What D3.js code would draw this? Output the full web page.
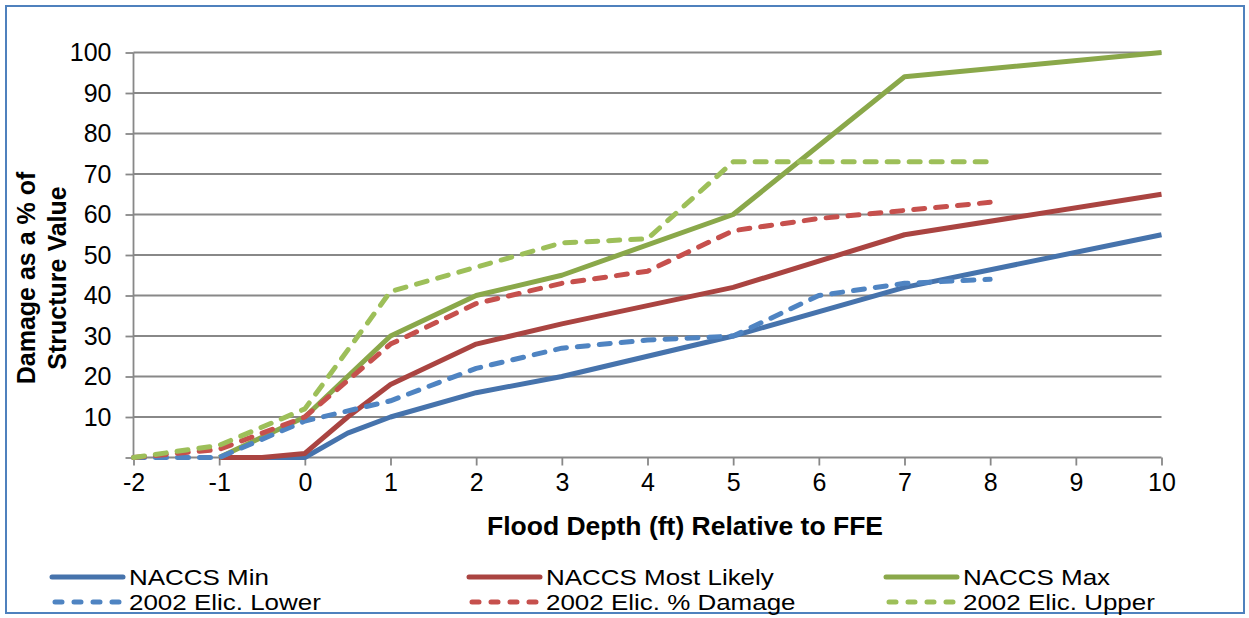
<!DOCTYPE html>
<html>
<head>
<meta charset="utf-8">
<script src="https://d3js.org/d3.v7.min.js"></script>
<style>
  body { margin: 0; background: #fff; }
  text { font-family: "Liberation Sans", Arial, sans-serif; fill: #000; }
  .tick text { font-size: 25px; }
  .title { font-size: 25px; font-weight: bold; }
  .legend text { font-size: 22px; }
</style>
</head>
<body>
<div id="chart"></div>
<script>
  // tick labels
  var xTicks = [-2, -1, 0, 1, 2, 3, 4, 5, 6, 7, 8, 9, 10];
  var yTicks = [0, 10, 20, 30, 40, 50, 60, 70, 80, 90, 100];

  // series
  var minX    = [-1, -0.5, 0, 0.5, 1, 2, 3, 4, 5, 7, 10];
  var minY    = [0, 0, 0, 6, 10, 16, 20, 25, 30, 42, 55];
  var likelyX = [-1, -0.5, 0, 0.5, 1, 2, 3, 5, 7, 10];
  var likelyY = [0, 0, 1, 10, 18, 28, 33, 42, 55, 65];
  var maxX    = [-1, 0, 0.5, 1, 2, 3, 5, 7, 10];
  var maxY    = [0, 10, 20, 30, 40, 45, 60, 94, 100];
  var elicX   = [-2, -1, 0, 1, 2, 3, 4, 5, 6, 7, 8];
  var lowerY  = [0, 0, 9, 14, 22, 27, 29, 30, 40, 43, 44];
  var dmgY    = [0, 2, 10, 28, 38, 43, 46, 56, 59, 61, 63];
  var upperY  = [0, 3, 12, 41, 47, 53, 54, 73, 73, 73, 73];

  var seriesNames = ['NACCS Min', 'NACCS Most Likely', 'NACCS Max',
                     '2002 Elic. Lower', '2002 Elic. % Damage', '2002 Elic. Upper'];

  function zip(xs, ys) {
    return xs.map(function (x, i) { return {x: x, y: ys[i]}; });
  }

  var series = [
    {name: seriesNames[0], pts: zip(minX, minY),       color: '#4673AC', dash: null},
    {name: seriesNames[1], pts: zip(likelyX, likelyY), color: '#AA4441', dash: null},
    {name: seriesNames[2], pts: zip(maxX, maxY),       color: '#8AA84A', dash: null},
    {name: seriesNames[3], pts: zip(elicX, lowerY),    color: '#4F84C2', dash: '11,11'},
    {name: seriesNames[4], pts: zip(elicX, dmgY),      color: '#C6504D', dash: '11,11'},
    {name: seriesNames[5], pts: zip(elicX, upperY),    color: '#9DBF59', dash: '11,11'}
  ];

  var w = 1249, h = 618;
  var svg = d3.select('#chart').append('svg')
    .attr('width', w)
    .attr('height', h);

  // outer frame
  svg.append('rect')
    .attr('x', 6).attr('y', 6)
    .attr('width', 1238).attr('height', 607)
    .attr('fill', 'none')
    .attr('stroke', '#4F81BD')
    .attr('stroke-width', 2);

  var x = d3.scaleLinear().domain([-2, 10]).range([133.5, 1161.5]);
  var y = d3.scaleLinear().domain([0, 100]).range([457.5, 52.5]);

  // gridlines
  svg.append('g').selectAll('line')
    .data(yTicks.filter(function (d) { return d > 0; }))
    .enter().append('line')
    .attr('x1', x(-2)).attr('x2', x(10))
    .attr('y1', function (d) { return y(d); })
    .attr('y2', function (d) { return y(d); })
    .attr('stroke', '#888')
    .attr('stroke-width', 1.8);

  // axes
  var yAxis = svg.append('g')
    .attr('transform', 'translate(' + x(-2) + ',0)')
    .call(d3.axisLeft(y).tickValues(yTicks).tickSize(8).tickPadding(14)
      .tickFormat(function (d) { return d === 0 ? '' : String(d); }));

  var xAxis = svg.append('g')
    .attr('transform', 'translate(0,' + y(0) + ')')
    .call(d3.axisBottom(x).tickValues(xTicks).tickSize(8).tickPadding(6)
      .tickFormat(function (d) { return String(d); }));

  [xAxis, yAxis].forEach(function (a) {
    a.select('.domain').attr('stroke', '#888').attr('stroke-width', 1.8);
    a.selectAll('.tick line').attr('stroke', '#888').attr('stroke-width', 1.8);
    a.selectAll('.tick text').attr('font-size', null).attr('font-family', null);
  });
  xAxis.select('.domain').attr('d', 'M' + x(-2) + ',0H' + x(10));
  yAxis.select('.domain').attr('d', 'M0,' + y(0) + 'V' + y(100));
  xAxis.selectAll('.tick text').attr('dy', '0.78em');

  // lines
  var line = d3.line()
    .x(function (d) { return x(d.x); })
    .y(function (d) { return y(d.y); });

  svg.append('g').selectAll('path')
    .data(series)
    .enter().append('path')
    .attr('d', function (d) { return line(d.pts); })
    .attr('fill', 'none')
    .attr('stroke', function (d) { return d.color; })
    .attr('stroke-width', 5)
    .attr('stroke-linejoin', 'round')
    .attr('stroke-linecap', function (d) { return d.dash ? 'round' : 'butt'; })
    .attr('stroke-dasharray', function (d) { return d.dash; });

  // axis titles
  svg.append('text')
    .attr('class', 'title')
    .attr('x', 685).attr('y', 535)
    .attr('text-anchor', 'middle')
    .style('font-size', '26.5px')
    .text('Flood Depth (ft) Relative to FFE');

  var yt = svg.append('text')
    .attr('class', 'title')
    .attr('transform', 'translate(35,278) rotate(-90)')
    .attr('text-anchor', 'middle');
  yt.append('tspan').attr('x', 0).attr('y', 0).text('Damage as a % of');
  yt.append('tspan').attr('x', 0).attr('y', 31).text('Structure Value');

  // legend
  var legX = [52, 469, 886];
  var legY = [577, 602];
  var leg = svg.append('g').attr('class', 'legend')
    .selectAll('g')
    .data(series)
    .enter().append('g')
    .attr('transform', function (d, i) {
      return 'translate(' + legX[i % 3] + ',' + legY[Math.floor(i / 3)] + ')';
    });
  leg.append('line')
    .attr('x1', function (d) { return d.dash ? 3 : 0; })
    .attr('x2', function (d) { return d.dash ? 70 : 71; })
    .attr('stroke', function (d) { return d.color; })
    .attr('stroke-width', 5)
    .attr('stroke-linecap', 'round')
    .attr('stroke-dasharray', function (d) { return d.dash ? '7,12' : null; });
  // reference legend text is drawn wide, so stretch it horizontally
  leg.append('text')
    .attr('transform', 'translate(77,8) scale(1.18,1)')
    .text(function (d) { return d.name; });
</script>
</body>
</html>
